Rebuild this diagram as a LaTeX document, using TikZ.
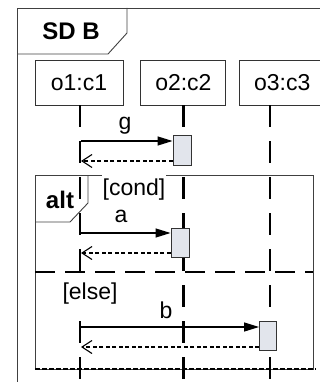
\documentclass[tikz,border=0pt]{standalone}
\usepackage{fontspec}
\setmainfont{Liberation Sans}
\usepackage{xcolor}
\usetikzlibrary{arrows.meta, positioning}
\definecolor{actfill}{HTML}{E2E5EC}

\begin{document}
\begin{tikzpicture}[x=1pt, y=-1pt,
    frame/.style={draw=black!75, line width=0.9pt},
    lifebox/.style={draw=black!80, line width=0.9pt, minimum height=45pt, inner sep=0pt, font=\fontsize{23}{27}\selectfont},
    lifeline/.style={line width=2.2pt, dash pattern=on 22pt off 14pt},
    actbox/.style={draw=black!80, fill=actfill, line width=0.9pt, inner sep=0pt},
    call/.style={-{Triangle[length=15pt, width=9pt]}, line width=1.2pt},
    reply/.style={-{Straight Barb[length=10pt, width=13pt]}, line width=1.1pt, dash pattern=on 4pt off 2.5pt},
    lbl/.style={font=\fontsize{23}{27}\selectfont, inner sep=1pt},
    tag/.style={font=\bfseries\fontsize{24}{28}\selectfont, inner sep=1pt}
]
    \useasboundingbox (0,0) rectangle (320,382);

    % outer frame and its name tag
    \draw[frame] (320,8) -- (17,8) -- (17,382);
    \draw[frame] (17,54) -- (108,54) -- (127,33) -- (127,8);
    \node[tag] (sdname) at (71,31) {SD B};

    % lifeline heads
    \node[lifebox, minimum width=88pt] (o1) at (79,82.5) {o1:c1};
    \node[lifebox, minimum width=85pt, right=17pt of o1] (o2) {o2:c2};
    \node[lifebox, minimum width=85pt, right=13pt of o2] (o3) {o3:c3};

    % alt fragment
    \coordinate (alttl) at (35,175);
    \coordinate (altbr) at (313,369);
    \draw[frame] (alttl) rectangle (altbr);
    \draw[frame] (35,222) -- (70,222) -- (88,203) -- (88,175);
    \node[tag] (alttag) at (60,200) {alt};

    % lifelines
    \coordinate (top1) at ([xshift=1pt]o1.south);
    \coordinate (top2) at (o2.south);
    \coordinate (top3) at ([xshift=-12pt]o3.south);
    \foreach \i in {1,2,3} {
        \coordinate (bot\i) at (top\i |- 0,382);
        \draw[lifeline] (top\i) -- (bot\i);
    }

    % operand separator and fragment end
    \draw[line width=2pt, dash pattern=on 20pt off 10pt] (alttl |- 0,272) -- (altbr |- 0,272);
    \draw[line width=2.4pt, dash pattern=on 5pt off 2pt] (alttl |- altbr) -- (316,369);

    % activations
    \node[actbox, minimum width=18pt, minimum height=30pt] (actg) at (182,150) {};
    \node[actbox, minimum width=18pt, minimum height=29pt] (acta) at (180,242.5) {};
    \node[actbox, minimum width=17pt, minimum height=29pt] (actb) at (268,335.5) {};

    % messages and replies
    \foreach \act/\yc/\yr in {actg/141/161, acta/233/253, actb/327/347} {
        \coordinate (c-\act) at (81,\yc);
        \coordinate (r-\act) at (81,\yr);
        \draw[call] (c-\act) -- (c-\act -| \act.west);
        \draw[reply] (r-\act -| \act.west) -- (r-\act);
    }

    % labels
    \node[lbl] (gtext) at (125,126) {g};
    \node[lbl, fill=white, inner ysep=5pt] (cond) at (134,190) {[cond]};
    \node[lbl] (atext) at (121,216) {a};
    \node[lbl, fill=white, inner ysep=3pt] (else) at (90,294) {[else]};
    \node[lbl] (btext) at (166,310) {b};
\end{tikzpicture}
\end{document}
